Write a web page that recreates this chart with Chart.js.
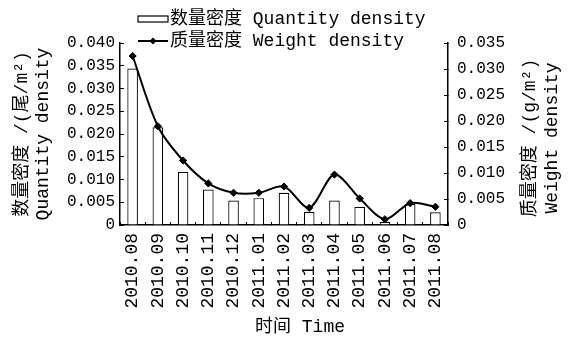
<!DOCTYPE html>
<html>
<head>
<meta charset="utf-8">
<script src="https://cdn.jsdelivr.net/npm/chart.js@4/dist/chart.umd.min.js"></script>
<style>
  html, body { margin: 0; padding: 0; background: #fff; }
  #wrap { width: 570px; height: 344px; }
</style>
</head>
<body>
<div id="wrap"><canvas id="c" width="570" height="344"></canvas></div>
<script>
// Monthly sampling dates
const months = ['2010.08', '2010.09', '2010.10', '2010.11', '2010.12', '2011.01', '2011.02',
                '2011.03', '2011.04', '2011.05', '2011.06', '2011.07', '2011.08'];
// Quantity density, ind/m² (bars, left axis)
const quantityDensity = [0.0344, 0.0215, 0.0117, 0.0078, 0.0054, 0.0059, 0.0071,
                         0.0029, 0.0054, 0.0040, 0.0007, 0.0046, 0.0028];
// Weight density, g/m² (line, right axis)
const weightDensity = [0.0325, 0.0190, 0.0124, 0.0080, 0.0062, 0.0062, 0.0074,
                       0.0033, 0.0097, 0.0051, 0.0011, 0.0042, 0.0035];
// Axis ranges
const leftMax = 0.040;
const rightMax = 0.035;
const tickStep = 0.005;

const FONT = "'Liberation Mono', 'Noto Sans CJK SC', monospace";
const INK = '#000';

function fmtTick(v) {
  return Math.abs(v) < 1e-9 ? '0' : v.toFixed(3);
}

// Legend and axis titles drawn directly on the canvas
const decorations = {
  id: 'decorations',
  afterDraw(chart) {
    const ctx = chart.ctx;
    const area = chart.chartArea;
    ctx.save();
    ctx.fillStyle = INK;
    ctx.strokeStyle = INK;
    ctx.textBaseline = 'middle';

    // legend
    ctx.font = '18px ' + FONT;
    ctx.textAlign = 'left';
    const lx = 138, lw = 30;
    // bar swatch
    ctx.lineWidth = 1.2;
    ctx.fillStyle = '#fff';
    ctx.fillRect(lx, 16, lw, 6);
    ctx.strokeRect(lx, 16, lw, 6);
    ctx.fillStyle = INK;
    ctx.fillText(chart.data.datasets[1].label, lx + lw + 2, 19);
    // line swatch
    ctx.lineWidth = 2;
    ctx.beginPath();
    ctx.moveTo(lx, 41);
    ctx.lineTo(lx + lw, 41);
    ctx.stroke();
    const cx = lx + lw / 2;
    ctx.beginPath();
    ctx.moveTo(cx, 37.5); ctx.lineTo(cx + 3.5, 41); ctx.lineTo(cx, 44.5); ctx.lineTo(cx - 3.5, 41);
    ctx.closePath();
    ctx.fill();
    ctx.fillText(chart.data.datasets[0].label, lx + lw + 2, 41);

    // axis titles
    const midY = (area.top + area.bottom) / 2;
    ctx.textAlign = 'center';
    ctx.font = '18px ' + FONT;
    const vText = (txt, x, y) => {
      ctx.save();
      ctx.translate(x, y);
      ctx.rotate(-Math.PI / 2);
      ctx.fillText(txt, 0, 0);
      ctx.restore();
    };
    vText('数量密度 /(尾/m²)', 22, midY);
    vText('Quantity density', 43, midY);
    vText('质量密度 /(g/m²)', 530, midY + 4);
    vText('Weight density', 552, midY + 4);
    ctx.fillText('时间 Time', 300, 327);
    ctx.restore();
  }
};

new Chart(document.getElementById('c'), {
  data: {
    labels: months,
    datasets: [
      {
        type: 'line',
        label: '质量密度 Weight density',
        data: weightDensity,
        yAxisID: 'yRight',
        borderColor: INK,
        backgroundColor: INK,
        borderWidth: 2,
        tension: 0.3,
        pointStyle: 'rectRot',
        pointRadius: 3.6,
        pointBackgroundColor: INK,
        pointBorderColor: INK,
        pointBorderWidth: 1,
        order: 0
      },
      {
        type: 'bar',
        label: '数量密度 Quantity density',
        data: quantityDensity,
        yAxisID: 'yLeft',
        backgroundColor: '#fff',
        borderColor: INK,
        borderWidth: 1.2,
        barPercentage: 0.42,
        categoryPercentage: 1.0,
        order: 1
      }
    ]
  },
  options: {
    responsive: false,
    devicePixelRatio: 1,
    animation: false,
    layout: { padding: { top: 43, left: 0, right: 0, bottom: 0 } },
    plugins: {
      legend: { display: false },
      tooltip: { enabled: false }
    },
    scales: {
      x: {
        type: 'category',
        afterFit(s) { s.height = 119; },
        grid: {
          display: true,
          offset: true,
          drawOnChartArea: false,
          drawTicks: true,
          tickLength: -3,
          color: INK,
          lineWidth: 1
        },
        border: { display: true, color: INK, width: 1.5 },
        ticks: {
          color: INK,
          font: { family: FONT, size: 18 },
          minRotation: 90,
          maxRotation: 90,
          padding: 11,
          autoSkip: false
        }
      },
      yLeft: {
        type: 'linear',
        position: 'left',
        min: 0,
        max: leftMax,
        afterFit(s) { s.width = 120; },
        grid: {
          display: true,
          drawOnChartArea: false,
          drawTicks: true,
          tickLength: -4,
          color: INK,
          lineWidth: 1
        },
        border: { display: true, color: INK, width: 1.5 },
        ticks: {
          stepSize: tickStep,
          color: INK,
          font: { family: FONT, size: 16 },
          padding: 9,
          callback: fmtTick
        }
      },
      yRight: {
        type: 'linear',
        position: 'right',
        min: 0,
        max: rightMax,
        afterFit(s) { s.width = 122; },
        grid: {
          display: true,
          drawOnChartArea: false,
          drawTicks: true,
          tickLength: -4,
          color: INK,
          lineWidth: 1
        },
        border: { display: true, color: INK, width: 1.5 },
        ticks: {
          stepSize: tickStep,
          color: INK,
          font: { family: FONT, size: 16 },
          padding: 13,
          callback: fmtTick
        }
      }
    }
  },
  plugins: [decorations]
});
</script>
</body>
</html>
